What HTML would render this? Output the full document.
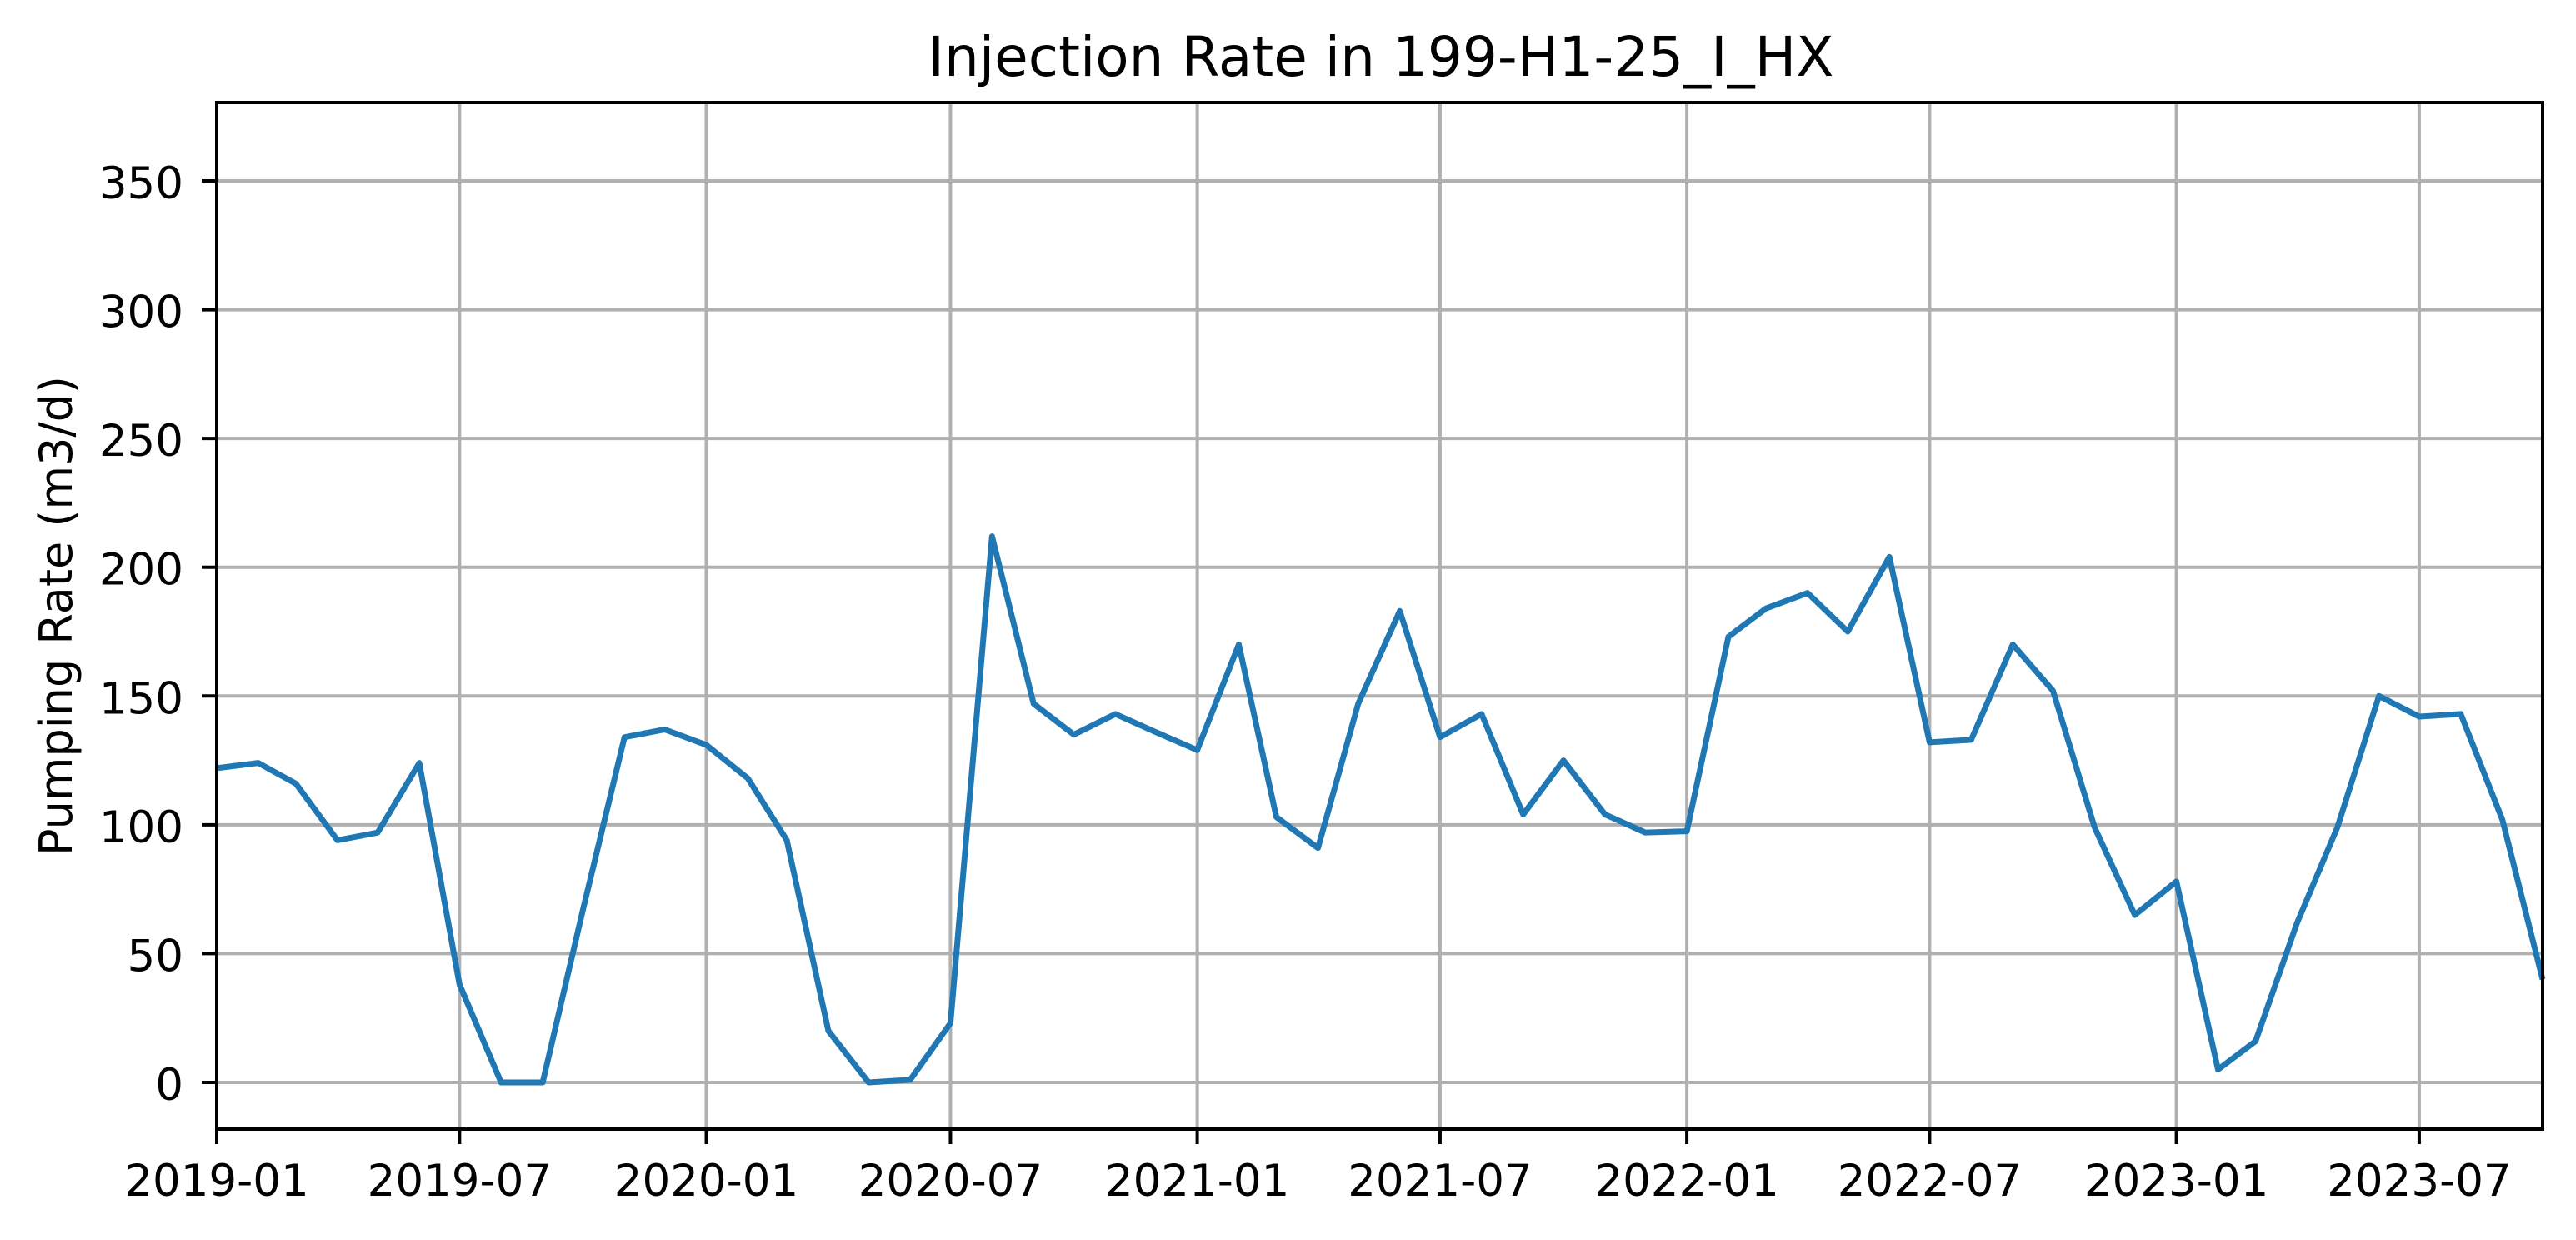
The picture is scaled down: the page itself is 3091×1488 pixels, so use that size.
<!DOCTYPE html>
<html><head><meta charset="utf-8"><style>
html,body{margin:0;padding:0;background:#fff;}
svg{display:block;font-family:"DejaVu Sans","Liberation Sans",sans-serif;}
</style></head><body>
<svg id="chart" width="3091" height="1488" viewBox="0 0 3091 1488" xmlns="http://www.w3.org/2000/svg">
<rect width="3091" height="1488" fill="#fff"/>
<g id="grid"></g>
<g id="series"></g>
<rect x="260" y="123" width="2791" height="1232" fill="none" stroke="#000" stroke-width="4"/>
<g id="ticks"></g>
<text x="1657" y="91" text-anchor="middle" font-size="66">Injection Rate in 199-H1-25_I_HX</text>
<text transform="translate(86,739) rotate(-90)" text-anchor="middle" font-size="54">Pumping Rate (m3/d)</text>
</svg>
<script>
const months = ["2019-01","2019-02","2019-03","2019-04","2019-05","2019-06","2019-07","2019-08","2019-09","2019-10","2019-11","2019-12",
"2020-01","2020-02","2020-03","2020-04","2020-05","2020-06","2020-07","2020-08","2020-09","2020-10","2020-11","2020-12",
"2021-01","2021-02","2021-03","2021-04","2021-05","2021-06","2021-07","2021-08","2021-09","2021-10","2021-11","2021-12",
"2022-01","2022-02","2022-03","2022-04","2022-05","2022-06","2022-07","2022-08","2022-09","2022-10","2022-11","2022-12",
"2023-01","2023-02","2023-03","2023-04","2023-05","2023-06","2023-07","2023-08","2023-09","2023-10"];
const rates = [122,124,116,94,97,124,38,0,0,67,134,137,
131,118,94,20,0,1,23,212,147,135,143,136,
129,170,103,91,147,183,134,143,104,125,104,97,
97.5,173,184,190,175,204,132,133,170,152,99,65,
78,5,16,62,99,150,142,143,102,40];
const xTicks = ["2019-01","2019-07","2020-01","2020-07","2021-01","2021-07","2022-01","2022-07","2023-01","2023-07"];
const yTicks = [0,50,100,150,200,250,300,350];

const NS="http://www.w3.org/2000/svg";
const L=260,R=3051,T=123,B=1355,Y0=1299,Y350=217;
const t0=Date.UTC(2019,0,1), t1=Date.UTC(2023,9,1);
function ms(s){const [y,m]=s.split("-").map(Number);return Date.UTC(y,m-1,1);}
function xs(s){return L+(ms(s)-t0)/(t1-t0)*(R-L);}
function ys(v){return Y0-v*((Y0-Y350)/350);}
function mk(tag,attrs,parent){const e=document.createElementNS(NS,tag);for(const k in attrs)e.setAttribute(k,attrs[k]);parent.appendChild(e);return e;}
const grid=document.getElementById('grid'), ticks=document.getElementById('ticks'), series=document.getElementById('series');
xTicks.forEach(t=>{
  const x=xs(t);
  const g=mk('line',{x1:x,x2:x,y1:T,y2:B,stroke:'#b0b0b0','stroke-width':4},grid);
  
  
  const tk=mk('line',{x1:x,x2:x,y1:B,y2:B+18,stroke:'#000','stroke-width':4},ticks);
  
  
  const tx=mk('text',{x:x,y:1435,'text-anchor':'middle','font-size':53},ticks);
  tx.textContent=t;
  
  
});
yTicks.forEach(v=>{
  const y=ys(v);
  const g=mk('line',{x1:L,x2:R,y1:y,y2:y,stroke:'#b0b0b0','stroke-width':4},grid);
  
  
  const tk=mk('line',{x1:L-18,x2:L,y1:y,y2:y,stroke:'#000','stroke-width':4},ticks);
  
  
  const tx=mk('text',{x:L-40,y:y+21,'text-anchor':'end','font-size':53},ticks);
  tx.textContent=v;
  
  
});
const pts=months.map((m,i)=>xs(m).toFixed(2)+","+ys(rates[i]).toFixed(2)).join(" ");
const line=mk('polyline',{points:pts,fill:'none',stroke:'#1f77b4','stroke-width':7,'stroke-linejoin':'round'},series);


</script>
</body></html>
